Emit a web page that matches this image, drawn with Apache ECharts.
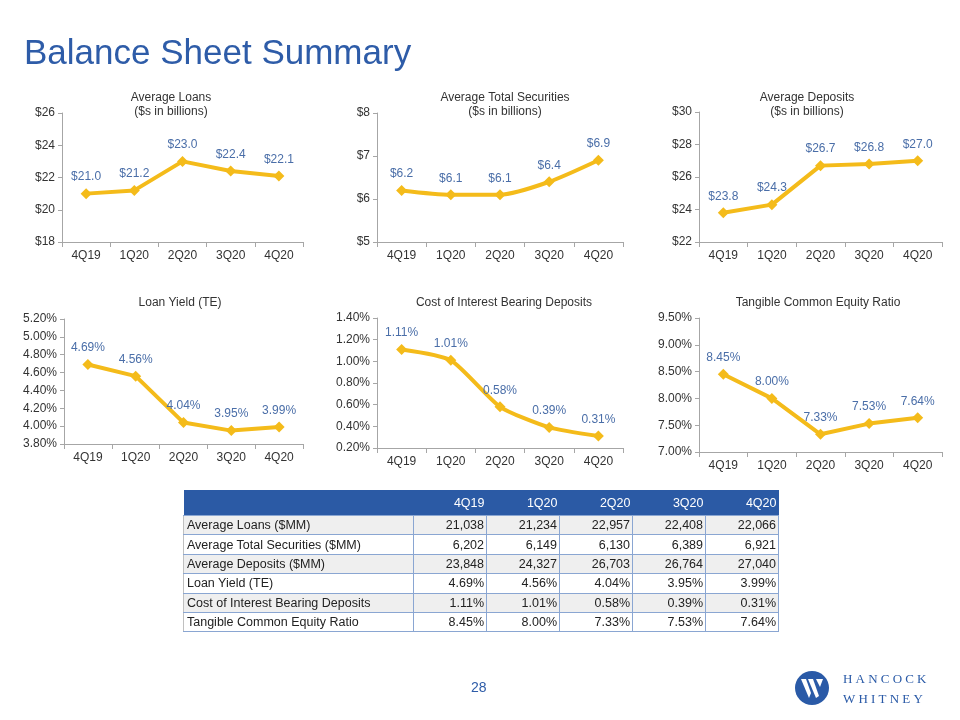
<!DOCTYPE html>
<html>
<head>
<meta charset="utf-8">
<script src="https://cdn.jsdelivr.net/npm/echarts@6/dist/echarts.min.js"></script>
<style>
  html, body { margin: 0; padding: 0; background: #fff; }
  #main { position: absolute; left: 0; top: 0; width: 960px; height: 720px; }
  #tbl {
    position: absolute; left: 183px; top: 490px;
    border-collapse: collapse; font-family: "Liberation Sans", Arial, sans-serif;
    font-size: 12.5px; color: #222; table-layout: fixed;
  }
  #tbl th { background: #2b5aa5; color: #fff; font-weight: normal; text-align: right;
    height: 25px; padding: 0 2px 0 0; border: none; }
  #tbl td { height: 18.4px; padding: 0 2px 0 3px; border: 1px solid #8aa6d2; text-align: right; }
  #tbl td:first-child { text-align: left; border-left: 1px solid #c0c0c0; }
  #tbl tr:nth-child(even) td { background: #efefef; }
  .brand { position: absolute; left: 843px; font-family: "Liberation Serif", "DejaVu Serif", serif;
    font-size: 13px; letter-spacing: 3.2px; color: #2a5aa7; }
</style>
</head>
<body>
<div id="main"></div>
<table id="tbl"></table>
<div class="brand" style="top:671px">HANCOCK</div>
<div class="brand" style="top:691px">WHITNEY</div>
<script>
// 分期
const quarters = ['4Q19', '1Q20', '2Q20', '3Q20', '4Q20'];

// 图表数据
const avgLoans = [21.0, 21.2, 23.0, 22.4, 22.1];
const avgSecurities = [6.2, 6.1, 6.1, 6.4, 6.9];
const avgDeposits = [23.8, 24.3, 26.7, 26.8, 27.0];
const loanYield = [4.69, 4.56, 4.04, 3.95, 3.99];
const costDeposits = [1.11, 1.01, 0.58, 0.39, 0.31];
const tceRatio = [8.45, 8.00, 7.33, 7.53, 7.64];

// 表格数据
const rowNames = ['Average Loans ($MM)', 'Average Total Securities ($MM)', 'Average Deposits ($MM)',
  'Loan Yield (TE)', 'Cost of Interest Bearing Deposits', 'Tangible Common Equity Ratio'];
const rowLoans = ['21,038', '21,234', '22,957', '22,408', '22,066'];
const rowSecurities = ['6,202', '6,149', '6,130', '6,389', '6,921'];
const rowDeposits = ['23,848', '24,327', '26,703', '26,764', '27,040'];
const rowYield = ['4.69%', '4.56%', '4.04%', '3.95%', '3.99%'];
const rowCost = ['1.11%', '1.01%', '0.58%', '0.39%', '0.31%'];
const rowTce = ['8.45%', '8.00%', '7.33%', '7.53%', '7.64%'];

const FONT = '"Liberation Sans", Arial, sans-serif';
const LINE = '#f4bb1a';
const LABEL = '#4a6ea8';

// 每个小图的位置与坐标轴
const panels = [
  { data: avgLoans, grid: [62, 113, 241, 129], min: 18, max: 26, step: 2, y: v => '$' + v, lab: v => '$' + v.toFixed(1), smooth: false },
  { data: avgSecurities, grid: [377, 113, 246, 129], min: 5, max: 8, step: 1, y: v => '$' + v, lab: v => '$' + v.toFixed(1), smooth: 0.25 },
  { data: avgDeposits, grid: [699, 112, 243, 130], min: 22, max: 30, step: 2, y: v => '$' + v, lab: v => '$' + v.toFixed(1), smooth: false },
  { data: loanYield, grid: [64, 319, 239, 125], min: 3.8, max: 5.2, step: 0.2, y: v => v.toFixed(2) + '%', lab: v => v.toFixed(2) + '%', smooth: false },
  { data: costDeposits, grid: [377, 318, 246, 130], min: 0.2, max: 1.4, step: 0.2, y: v => v.toFixed(2) + '%', lab: v => v.toFixed(2) + '%', smooth: 0.2 },
  { data: tceRatio, grid: [699, 318, 243, 134], min: 7.0, max: 9.5, step: 0.5, y: v => v.toFixed(2) + '%', lab: v => v.toFixed(2) + '%', smooth: false }
];

const titles = [
  { text: 'Average Loans\n($s in billions)', x: 166, y: 86 },
  { text: 'Average Total Securities\n($s in billions)', x: 500, y: 86 },
  { text: 'Average Deposits\n($s in billions)', x: 802, y: 86 },
  { text: 'Loan Yield (TE)', x: 175, y: 291 },
  { text: 'Cost of Interest Bearing Deposits', x: 499, y: 291 },
  { text: 'Tangible Common Equity Ratio', x: 813, y: 291 }
];

const axisColor = '#a6a6a6';

const option = {
  animation: false,
  textStyle: { fontFamily: FONT },
  title: titles.map(t => ({
    text: t.text, left: t.x, top: t.y, textAlign: 'center',
    textStyle: { fontSize: 12, fontWeight: 'normal', color: '#333', lineHeight: 14, fontFamily: FONT }
  })),
  grid: panels.map(p => ({ left: p.grid[0], top: p.grid[1], width: p.grid[2], height: p.grid[3] })),
  xAxis: panels.map((p, i) => ({
    type: 'category', gridIndex: i, data: quarters, boundaryGap: true,
    axisLine: { lineStyle: { color: axisColor } },
    axisTick: { show: true, length: 5, lineStyle: { color: axisColor } },
    axisLabel: { color: '#333', fontSize: 12, margin: 8 }
  })),
  yAxis: panels.map((p, i) => ({
    type: 'value', gridIndex: i, min: p.min, max: p.max, interval: p.step,
    splitLine: { show: false },
    axisLine: { show: true, lineStyle: { color: axisColor } },
    axisTick: { show: true, length: 4, lineStyle: { color: axisColor } },
    axisLabel: { color: '#333', fontSize: 12, margin: 7, formatter: p.y }
  })),
  series: panels.map((p, i) => ({
    type: 'line', xAxisIndex: i, yAxisIndex: i, data: p.data, smooth: p.smooth,
    symbol: 'diamond', symbolSize: 11,
    lineStyle: { color: LINE, width: 4 },
    itemStyle: { color: LINE },
    label: { show: true, position: 'top', distance: 5, color: LABEL, fontSize: 12, formatter: o => p.lab(o.value) }
  })),
  graphic: [
    { type: 'text', left: 24, top: 37, style: { text: 'Balance Sheet Summary', fill: '#2e5ca8', font: '35px "Liberation Sans", Arial, sans-serif' } },
    { type: 'text', left: 471, top: 681, style: { text: '28', fill: '#2e5ca8', font: '14px "Liberation Sans", Arial, sans-serif' } },
    { type: 'circle', shape: { cx: 812, cy: 688, r: 17 }, style: { fill: '#2a5aa7' } },
    { type: 'polygon', shape: { points: [[801, 679], [806, 679], [811, 693], [809, 698]] }, style: { fill: '#fff' } },
    { type: 'polygon', shape: { points: [[808, 679], [813, 679], [819, 696], [816, 698]] }, style: { fill: '#fff' } },
    { type: 'polygon', shape: { points: [[816, 679], [823, 679], [820, 687]] }, style: { fill: '#fff' } }
  ]
};

const myChart = echarts.init(document.getElementById('main'));
myChart.setOption(option);

// 表格
const rows = [rowLoans, rowSecurities, rowDeposits, rowYield, rowCost, rowTce];
let html = '<colgroup><col style="width:230px">' + quarters.map(() => '<col style="width:73px">').join('') + '</colgroup>';
html += '<tr><th></th>' + quarters.map(q => '<th>' + q + '</th>').join('') + '</tr>';
rows.forEach((r, i) => {
  html += '<tr><td>' + rowNames[i] + '</td>' + r.map(v => '<td>' + v + '</td>').join('') + '</tr>';
});
document.getElementById('tbl').innerHTML = html;
</script>
</body>
</html>
